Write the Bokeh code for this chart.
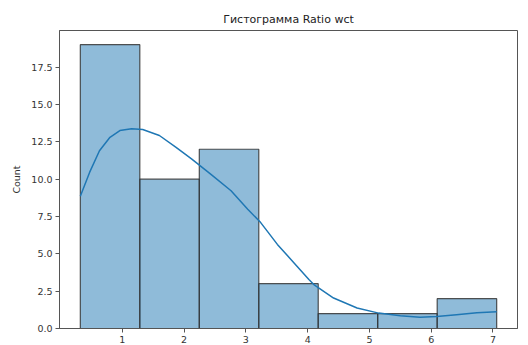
from bokeh.plotting import figure
from bokeh.models import Range1d, FixedTicker, PrintfTickFormatter, ColumnDataSource
from bokeh.embed import file_html
from bokeh.resources import INLINE

# Histogram data
bin_edges = [0.32, 1.283, 2.246, 3.209, 4.171, 5.134, 6.097, 7.06]
counts = [19, 10, 12, 3, 1, 1, 2]

# KDE curve points
kde_x = [0.32, 0.47, 0.63, 0.80, 0.96, 1.15, 1.33, 1.60, 1.87, 2.12, 2.44,
         2.76, 3.03, 3.24, 3.51, 3.78, 4.02, 4.10, 4.42, 4.80, 5.15, 5.50,
         5.82, 6.09, 6.41, 6.74, 7.06]
kde_y = [8.85, 10.45, 11.9, 12.8, 13.25, 13.37, 13.32, 12.92, 12.13, 11.35, 10.3,
         9.22, 7.99, 7.09, 5.63, 4.39, 3.28, 2.94, 2.04, 1.37, 1.03, 0.85,
         0.76, 0.80, 0.92, 1.06, 1.12]

x_ticks = [1, 2, 3, 4, 5, 6, 7]
y_ticks = [0, 2.5, 5, 7.5, 10, 12.5, 15, 17.5]

title = "Гистограмма Ratio wct"
y_label = "Count"

FONT = "DejaVu Sans"

p = figure(width=528, height=345, output_backend="svg", toolbar_location=None,
           title=title, x_range=Range1d(-0.017, 7.397), y_range=Range1d(0, 19.95))
p.min_border_left = 59
p.min_border_right = 11
p.min_border_top = 30
p.min_border_bottom = 0

p.title.align = "center"
p.title.text_font = FONT
p.title.text_font_size = "11px"
p.title.text_font_style = "normal"
p.title.text_color = "#222222"

src = ColumnDataSource(dict(left=bin_edges[:-1], right=bin_edges[1:], top=counts))
p.quad(left="left", right="right", top="top", bottom=0, source=src,
       fill_color="#1f77b4", fill_alpha=0.5, line_color="#333333", line_width=1.2,
       line_alpha=0.85)

p.line(kde_x, kde_y, line_color="#1f77b4", line_width=1.5, line_join="round")

p.xgrid.visible = False
p.ygrid.visible = False

p.outline_line_color = "#555555"
p.outline_line_width = 1

for ax in (p.xaxis[0], p.yaxis[0]):
    ax.major_label_text_font = FONT
    ax.major_label_text_font_size = "9.5px"
    ax.major_label_text_color = "#333333"
    ax.axis_line_color = "#555555"
    ax.major_tick_line_color = "#555555"
    ax.major_tick_out = 4
    ax.major_tick_in = 0
    ax.minor_tick_line_color = None
    ax.major_label_standoff = 3

p.xaxis[0].ticker = FixedTicker(ticks=x_ticks)
p.yaxis[0].ticker = FixedTicker(ticks=y_ticks)
p.yaxis[0].formatter = PrintfTickFormatter(format="%.1f")
p.yaxis[0].axis_label = y_label
p.yaxis[0].axis_label_text_font = FONT
p.yaxis[0].axis_label_text_font_size = "9.5px"
p.yaxis[0].axis_label_text_font_style = "normal"
p.yaxis[0].axis_label_text_color = "#333333"
p.yaxis[0].axis_label_standoff = 6

open("out.html", "w").write(file_html(p, INLINE))
